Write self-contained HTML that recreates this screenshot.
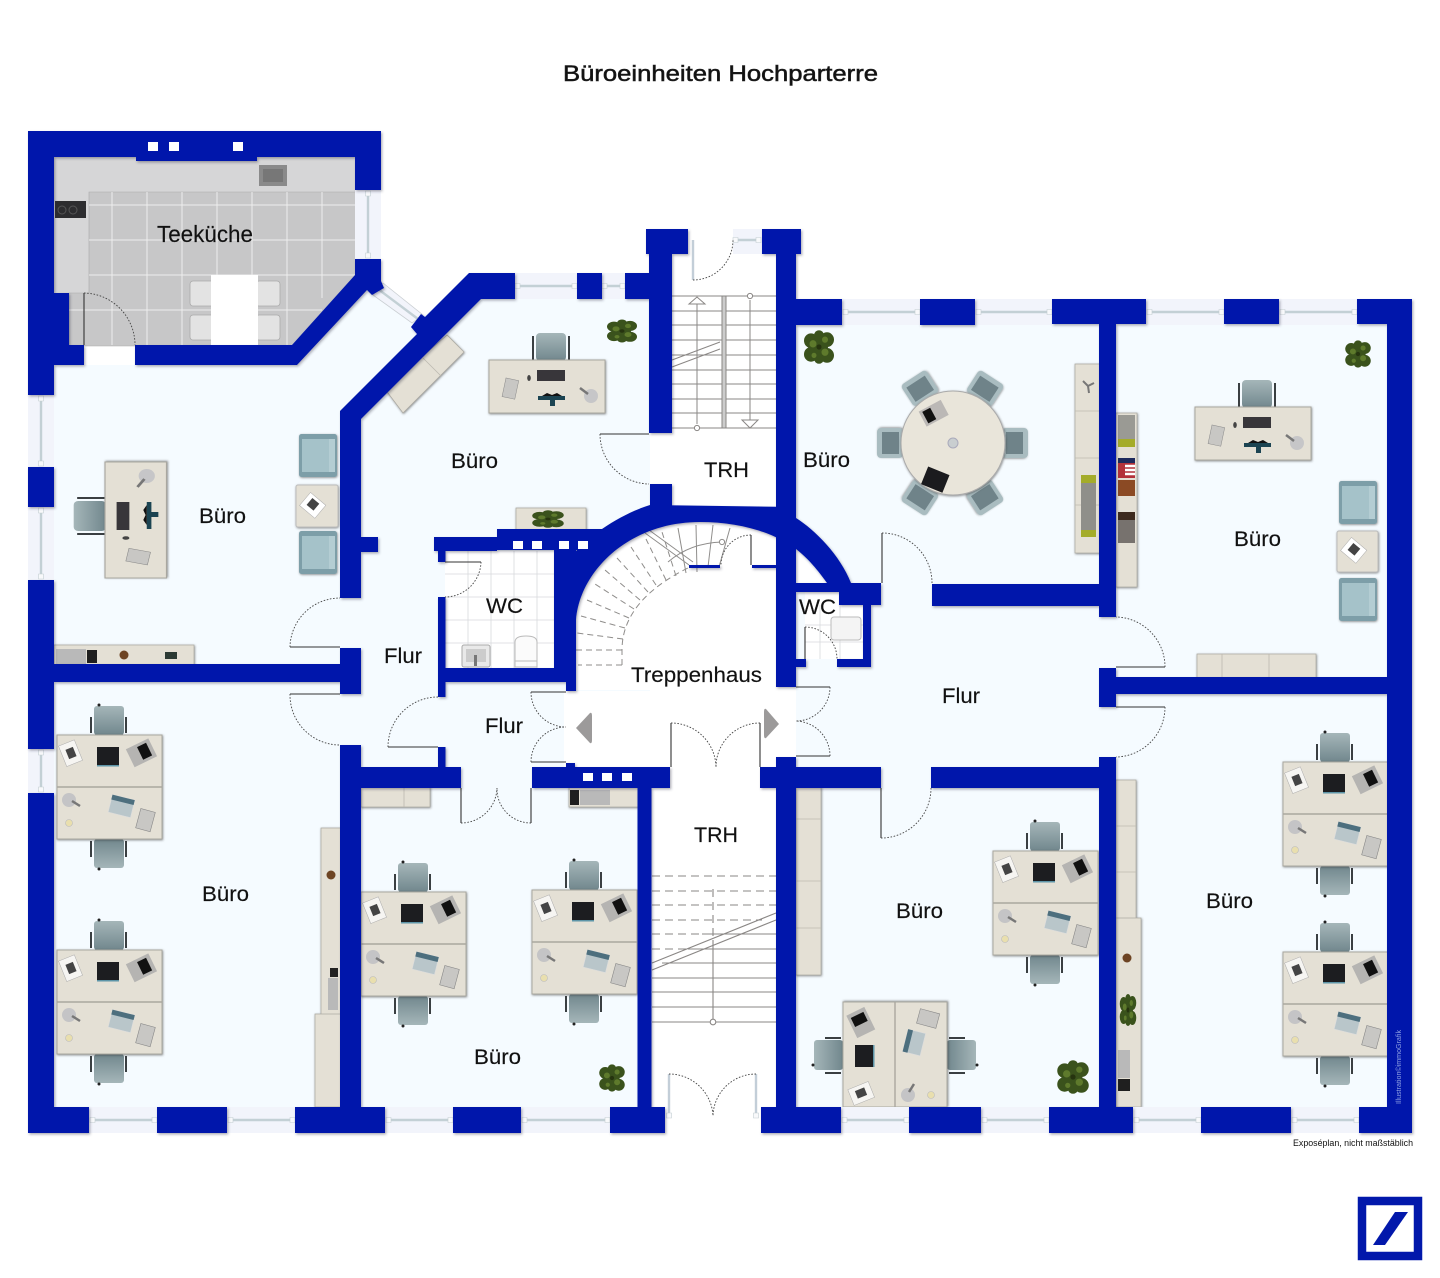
<!DOCTYPE html>
<html lang="de"><head><meta charset="utf-8"><title>Büroeinheiten Hochparterre</title>
<style>html,body{margin:0;padding:0;background:#fff}svg{display:block}
text{font-family:"Liberation Sans",sans-serif;fill:#111}</style></head>
<body>
<svg xmlns="http://www.w3.org/2000/svg" width="1440" height="1278" viewBox="0 0 1440 1278">
<defs>
<filter id="ws" x="-5%" y="-5%" width="110%" height="110%"><feDropShadow dx="1.2" dy="1.5" stdDeviation="1.2" flood-color="#334" flood-opacity=".4"/></filter>
<filter id="fs" x="-10%" y="-10%" width="120%" height="120%"><feDropShadow dx=".6" dy=".8" stdDeviation="1" flood-color="#333" flood-opacity=".55"/></filter>
<linearGradient id="ch" x1="0" y1="0" x2="0" y2="1"><stop offset="0" stop-color="#a5b6b9"/><stop offset="1" stop-color="#71878d"/></linearGradient>
<linearGradient id="chb" x1="0" y1="1" x2="0" y2="0"><stop offset="0" stop-color="#a5b6b9"/><stop offset="1" stop-color="#71878d"/></linearGradient>
<g id="d4">
  <g stroke="#3a3f42" stroke-width="2" fill="none"><path d="M34 -2V-18M69 -2V-18M34 106V122M69 106V122"/></g>
  <rect x="37" y="-29" width="30" height="29" rx="3" fill="url(#ch)"/>
  <rect x="37" y="104" width="30" height="29" rx="3" fill="url(#chb)"/>
  <circle cx="42" cy="-30" r="1.5" fill="#222"/><circle cx="42" cy="134" r="1.5" fill="#222"/>
  <rect width="105" height="104" fill="#e4e0d5" stroke="#a9a79f" filter="url(#fs)"/>
  <path d="M0 52H105" stroke="#aaa89f" stroke-width="1.4"/>
  <rect x="5" y="7" width="17" height="22" fill="#f6f5f2" stroke="#aaa" stroke-width=".5" transform="rotate(-22 14 18)"/>
  <rect x="10" y="13" width="8" height="10" fill="#444" transform="rotate(-22 14 18)"/>
  <rect x="40" y="12" width="22" height="19" fill="#1c1d20"/><rect x="40" y="30" width="22" height="1.5" fill="#5d95a8"/>
  <rect x="72" y="8" width="25" height="20" fill="#b5b4b2" transform="rotate(-26 84 18)"/>
  <rect x="83" y="11" width="10" height="14" fill="#111" transform="rotate(-26 84 18)"/>
  <circle cx="12" cy="65" r="7" fill="#c4c4c6"/><path d="M15 66l8 5" stroke="#777" stroke-width="2.5"/>
  <circle cx="12" cy="88" r="3.5" fill="#e9dfae" stroke="#bbb" stroke-width=".6"/>
  <rect x="53" y="62" width="23" height="18" fill="#b9c6ca" stroke="#ddd" stroke-width=".6" transform="rotate(14 64 71)"/>
  <rect x="53" y="62" width="23" height="5" fill="#4d6f7e" transform="rotate(14 64 71)"/>
  <rect x="81" y="75" width="15" height="20" fill="#c8c7c4" stroke="#888" stroke-width=".6" transform="rotate(15 88 85)"/>
</g>
<g id="d1">
  <path d="M44 0V-24M80 0V-24" stroke="#3a3f42" stroke-width="2"/>
  <rect x="47" y="-27" width="30" height="28" rx="4" fill="url(#ch)"/>
  <rect width="116" height="53" fill="#e4e0d5" stroke="#a9a79f" filter="url(#fs)"/>
  <rect x="15" y="19" width="13" height="19" fill="#c8c7c4" stroke="#888" stroke-width=".5" transform="rotate(12 21 28)"/>
  <ellipse cx="40" cy="18" rx="1.8" ry="3" fill="#444"/>
  <rect x="48" y="10" width="28" height="11" fill="#38363a"/>
  <path d="M49 36h27v4H66v6h-5v-6H49z" fill="#1b4452"/><path d="M53 36l5-3 5 2 5-2 5 3z" fill="#111"/>
  <circle cx="102" cy="36" r="7" fill="#c6c6c8"/><path d="M91 28l8 6" stroke="#777" stroke-width="2.5"/>
</g>
<g id="arm"><rect width="38" height="43" rx="2.5" fill="#7d9ea8" filter="url(#fs)"/><rect x="3" y="5" width="27" height="33" fill="#a5c2c9"/><rect x="30" y="5" width="6" height="33" fill="#b4cdd3"/></g>
<g id="rc"><rect x="-15" y="-15" width="30" height="26" rx="4" fill="#a9bcc0" filter="url(#fs)"/><rect x="-11" y="-10" width="22" height="17" fill="#6f8389"/></g>
<g id="pl"><g fill="#3a521c"><circle cx="-8" cy="-6" r="7"/><circle cx="8" cy="-7" r="7"/><circle cx="-8" cy="7" r="7"/><circle cx="8" cy="8" r="7"/><circle cx="0" cy="-11" r="5"/><circle cx="0" cy="11" r="5"/><circle r="9"/></g><g fill="#5e7a2c"><circle cx="-6" cy="-3" r="3.5"/><circle cx="6" cy="5" r="3.5"/><circle cx="6" cy="-7" r="3"/><circle cx="-5" cy="8" r="2.5"/></g><circle r="2.5" fill="#26340f"/></g>
</defs>
<rect width="1440" height="1278" fill="#fff"/>

<!-- floors -->
<path d="M54 365H300L366 288L384 283L423 316L470 285H650V1120H54Z" fill="#f5fbff"/>
<rect x="796" y="310" width="595" height="805" fill="#f5fbff"/>
<rect x="54" y="395" width="12" height="300" fill="#f5fbff"/>
<path d="M564 691H796V1107H651V788H564ZM576 622C580 570 630 522 700 522C745 522 790 540 828 584H796V690H576Z" fill="#fff"/>
<rect x="672" y="254" width="104" height="253" fill="#fff"/><rect x="650" y="433" width="30" height="51" fill="#fff"/>
<rect x="665" y="1100" width="96" height="33" fill="#fff"/>
<path d="M796 549L828 584H796Z" fill="#fff"/>
<rect x="445" y="551" width="110" height="118" fill="#fff"/>
<path d="M468 551V668M491 551V668M514 551V668M537 551V668M445 574H555M445 597H555M445 620H555M445 643H555" stroke="#d8d9dc" stroke-width=".8"/>
<rect x="805" y="592" width="58" height="67" fill="#fff"/>
<path d="M820 605V659M840 605V659M805 625H863M805 642H863" stroke="#d8d9dc" stroke-width=".8"/>

<!-- Teeküche -->
<rect x="54" y="157" width="302" height="36" fill="#d6d6d7"/>
<rect x="54" y="190" width="36" height="104" fill="#d6d6d7"/>
<path d="M89 192H356V275L292 346H69V293H89Z" fill="#c7c7c8" stroke="#aaa" stroke-width=".6"/>
<path d="M112 192V345M147 192V345M182 192V345M217 192V345M252 192V345M287 192V345M322 192V298M89 205H355M89 240H355M89 275H355M69 310H322" stroke="#eee" stroke-width="1"/>
<rect x="259" y="165" width="28" height="21" fill="#8a8a8a"/><rect x="263" y="169" width="20" height="13" fill="#777"/>
<rect x="55" y="201" width="31" height="17" fill="#2d2d2f"/><circle cx="62" cy="210" r="4" fill="none" stroke="#555"/><circle cx="73" cy="210" r="4" fill="none" stroke="#555"/>
<g fill="#e3e3e3" stroke="#aaa" stroke-width=".8"><rect x="190" y="281" width="24" height="25" rx="3"/><rect x="190" y="315" width="24" height="25" rx="3"/><rect x="256" y="281" width="24" height="25" rx="3"/><rect x="256" y="315" width="24" height="25" rx="3"/></g>
<rect x="211" y="275" width="47" height="70" fill="#fff"/>

<!-- sideboards -->
<g fill="#e4e0d5" stroke="#a9a79f" stroke-width=".7" filter="url(#fs)">
<rect x="54" y="645" width="140" height="20"/>
<path d="M385 389L447 335L464 352L403 413Z"/>
<rect x="516" y="508" width="70" height="22"/>
<rect x="1075" y="364" width="25" height="189"/>
<rect x="1116" y="413" width="21" height="174"/>
<rect x="1197" y="654" width="119" height="24"/>
<rect x="361" y="787" width="69" height="20"/>
<rect x="569" y="787" width="69" height="20"/>
<rect x="321" y="828" width="20" height="187"/>
<rect x="315" y="1014" width="26" height="93"/>
<rect x="796" y="787" width="25" height="188"/>
<rect x="1116" y="780" width="20" height="139"/>
<rect x="1116" y="918" width="25" height="189"/>
</g>
<path d="M423 358L441 376M1075 411H1100M1075 458H1100M1075 505H1100M1197 654M1222 654V678M1269 654V678M404 788V807M796 819M796 819H821M796 881H821M796 928H821M1116 826H1136M1116 872H1136" stroke="#bdbab0" stroke-width=".8"/>
<!-- sideboard items -->
<rect x="56" y="649" width="30" height="15" fill="#b9b9b9"/><rect x="87" y="650" width="10" height="13" fill="#1f1f1f"/><circle cx="124" cy="655" r="4.5" fill="#6d4423"/><rect x="165" y="652" width="12" height="7" fill="#2c3a34"/>
<rect x="570" y="790" width="9" height="15" fill="#1f1f1f"/><rect x="580" y="790" width="30" height="15" fill="#b9b9b9"/>
<circle cx="331" cy="875" r="4.5" fill="#6d4423"/><rect x="330" y="968" width="8" height="9" fill="#222"/><rect x="328" y="978" width="10" height="32" fill="#b9b9b9"/>
<circle cx="1127" cy="958" r="4.5" fill="#6d4423"/><rect x="1118" y="1050" width="12" height="28" fill="#b9b9b9"/><rect x="1118" y="1079" width="12" height="12" fill="#1f1f1f"/>
<rect x="1081" y="475" width="15" height="62" fill="#8f8f8a"/><rect x="1081" y="475" width="15" height="8" fill="#a4ac2a"/><rect x="1081" y="530" width="15" height="7" fill="#a4ac2a"/>
<rect x="1118" y="415" width="17" height="32" fill="#9a9a94"/><rect x="1118" y="439" width="17" height="8" fill="#a4ac2a"/>
<rect x="1118" y="458" width="17" height="20" fill="#b3323a"/><rect x="1118" y="458" width="17" height="5" fill="#1d2a5c"/><path d="M1125 466h10M1125 470h10M1125 474h10" stroke="#fff" stroke-width="2.4"/><rect x="1118" y="480" width="17" height="16" fill="#8b4a24"/>
<rect x="1118" y="512" width="17" height="31" fill="#77726e"/><rect x="1118" y="512" width="17" height="8" fill="#3d2a1e"/>
<path d="M1088 386l-5 -5M1088 386l6 -3M1088 386l1 7" stroke="#777" stroke-width="2"/>

<!-- plants -->
<use href="#pl" transform="translate(622 331) scale(1,.72)"/>
<use href="#pl" transform="translate(819 347) scale(1,1.05)"/>
<use href="#pl" transform="translate(1358 354) scale(.85)"/>
<use href="#pl" transform="translate(612 1078) scale(.85)"/>
<use href="#pl" transform="translate(1073 1077) scale(1.05)"/>
<use href="#pl" transform="translate(548 519) scale(1.05,.55)"/>
<use href="#pl" transform="translate(1128 1010) scale(.55,1)"/>

<!-- desks -->
<use href="#d4" x="57" y="735"/><use href="#d4" x="57" y="950"/>
<use href="#d4" x="361" y="892"/><use href="#d4" x="532" y="890"/>
<use href="#d4" x="1283" y="762"/><use href="#d4" x="1283" y="952"/>
<use href="#d4" x="993" y="851"/>
<use href="#d4" transform="translate(843 1107) rotate(-90)"/>
<use href="#d1" x="489" y="360"/><use href="#d1" x="1195" y="407"/>
<use href="#d1" transform="translate(105 578) rotate(-90) scale(1,1.16)"/>
<!-- round table -->
<use href="#rc" transform="translate(892 443) rotate(-90)"/><use href="#rc" transform="translate(1013 443) rotate(90)"/>
<use href="#rc" transform="translate(921 390) rotate(-33)"/><use href="#rc" transform="translate(984 390) rotate(33)"/>
<use href="#rc" transform="translate(921 496) rotate(213)"/><use href="#rc" transform="translate(984 496) rotate(147)"/>
<circle cx="953" cy="443" r="52" fill="#e9e5da" stroke="#aaa" filter="url(#fs)"/>
<circle cx="953" cy="443" r="5" fill="#c9ced0" stroke="#aab" stroke-width="1"/>
<rect x="921" y="405" width="25" height="17" fill="#bbb8b6" transform="rotate(-28 933 413)"/><rect x="924" y="407" width="9" height="13" fill="#111" transform="rotate(-28 933 413)"/>
<rect x="924" y="470" width="23" height="19" fill="#1b1b1e" transform="rotate(22 935 479)"/>
<!-- armchairs -->
<use href="#arm" x="299" y="434"/><use href="#arm" x="299" y="531"/><use href="#arm" x="1339" y="481"/><use href="#arm" x="1339" y="578"/>
<rect x="296" y="485" width="42" height="42" rx="2" fill="#e4e0d5" stroke="#bbb" filter="url(#fs)"/>
<rect x="1337" y="531" width="41" height="41" rx="2" fill="#e4e0d5" stroke="#bbb" filter="url(#fs)"/>
<rect x="303" y="497" width="20" height="17" fill="#fff" stroke="#aaa" stroke-width=".5" transform="rotate(40 313 505)"/><rect x="308" y="500" width="9" height="9" fill="#444" transform="rotate(40 313 505)"/>
<rect x="1344" y="542" width="20" height="17" fill="#fff" stroke="#aaa" stroke-width=".5" transform="rotate(40 1354 550)"/><rect x="1349" y="545" width="9" height="9" fill="#444" transform="rotate(40 1354 550)"/>

<!-- sanitary -->
<rect x="462" y="645" width="28" height="22" rx="2" fill="#e9e9e9" stroke="#aaa"/><rect x="466" y="649" width="20" height="13" fill="#ccc"/><rect x="474" y="655" width="3" height="11" fill="#777"/>
<path d="M515 667V642Q515 636 526 636Q537 636 537 642V667Z" fill="#fbfbfb" stroke="#bbb"/><path d="M515 661H537" stroke="#bbb"/>
<rect x="831" y="617" width="30" height="23" rx="3" fill="#f4f4f4" stroke="#bbb"/>

<!-- stairs top -->
<g stroke="#8a8785" stroke-width="1" fill="none">
<path d="M672 296H776M672 311H776M672 325H776M672 340H776M672 355H776M672 370H776M672 384H776M672 399H776M672 413H776M672 428H776"/>
<path d="M697 300V424M750 300V420"/>
<rect x="722" y="296" width="4" height="132" fill="#ccc"/>
<path d="M672 360L720 342M672 367L720 349"/>
<path d="M689 304L697 297L705 304Z" fill="#fff"/><path d="M742 420L758 420L750 428Z" fill="#fff"/>
<circle cx="750" cy="296" r="2.6" fill="#fff"/><circle cx="697" cy="428" r="2.6" fill="#fff"/>
</g>
<!-- stairs bottom -->
<g stroke="#8a8785" stroke-width="1.1" fill="none">
<path d="M652 876H776M652 891H776M652 905H776M652 920H762M652 934H702M652 949H688" stroke-dasharray="8 5"/>
<path d="M713 889V940" stroke-dasharray="8 5"/><path d="M713 940V1019"/>
<path d="M702 934H776M688 949H776M662 963H776M652 978H776M652 992H776M652 1007H776M652 1022H776"/>
<path d="M652 963L776 913M652 970L776 920"/><circle cx="713" cy="1022" r="2.8" fill="#fff"/>
</g>
<!-- spiral stairs -->
<g stroke="#8f8d8b" stroke-width="1" fill="none">
<g stroke-dasharray="6 4"><path d="M622 665H578M622 650H576M623 639L577 633M625 628L581 616M629 618L587 600M634 609L595 584M640 600L605 570M648 592L617 558M656 585L631 547M666 580L646 539M676 576L662 532"/>
<path d="M622 665V650Q622 600 690 567"/></g>
<path d="M686 573L678 528M697 572L696 525M708 567L713 525M719 567L730 528"/>
<path d="M645 533L689 565M649 530L693 562"/><path d="M668 562Q690 543 722 542"/>
<circle cx="722" cy="542" r="2.6" fill="#fff"/>
</g>
<!-- arrows -->
<path d="M576 728L590 713Q592 712 592 716V740Q592 744 590 743Z" fill="#9c9a9a"/>
<path d="M779 724L766 709Q764 708 764 712V735Q764 739 766 738Z" fill="#9c9a9a"/>

<!-- windows -->
<g fill="#f2f4fb">
<rect x="515" y="273" width="62" height="26"/><rect x="602" y="273" width="23" height="26"/>
<rect x="842" y="299" width="78" height="26"/><rect x="975" y="299" width="77" height="26"/><rect x="1146" y="299" width="78" height="26"/><rect x="1279" y="299" width="78" height="26"/>
<rect x="89" y="1107" width="68" height="26"/><rect x="227" y="1107" width="68" height="26"/><rect x="385" y="1107" width="68" height="26"/><rect x="521" y="1107" width="89" height="26"/>
<rect x="841" y="1107" width="68" height="26"/><rect x="981" y="1107" width="68" height="26"/><rect x="1133" y="1107" width="68" height="26"/><rect x="1291" y="1107" width="68" height="26"/>
<rect x="28" y="395" width="26" height="72"/><rect x="28" y="507" width="26" height="73"/><rect x="28" y="749" width="26" height="44"/><rect x="355" y="190" width="26" height="69"/>
<path d="M383 283L423 315L412 323L373 295Z" stroke="#c9ced2" stroke-width=".8"/><rect x="733" y="229" width="29" height="25"/>
</g>
<g stroke="#c3d0d5" stroke-width="2.4" fill="none">
<path d="M517 286H575M604 286H623M844 312H918M977 312H1050M1148 312H1222M1281 312H1355M91 1120H155M229 1120H293M387 1120H451M523 1120H608M843 1120H907M983 1120H1047M1135 1120H1199M1293 1120H1357M41 397V465M41 509V578M41 751V791M368 192V257M378 289L418 319M735 240H760"/>
<path d="M693 240V280M669 1074V1116M756 1074V1116" stroke="#c3ced8"/>
</g>
<path d="M515 283.5h5v5h-5zM572 283.5h5v5h-5zM602 283.5h5v5h-5zM620 283.5h5v5h-5zM843 309.5h5v5h-5zM915 309.5h5v5h-5zM976 309.5h5v5h-5zM1047 309.5h5v5h-5zM1147 309.5h5v5h-5zM1219 309.5h5v5h-5zM1280 309.5h5v5h-5zM1352 309.5h5v5h-5zM90 1117.5h5v5h-5zM152 1117.5h5v5h-5zM228 1117.5h5v5h-5zM290 1117.5h5v5h-5zM386 1117.5h5v5h-5zM448 1117.5h5v5h-5zM522 1117.5h5v5h-5zM605 1117.5h5v5h-5zM842 1117.5h5v5h-5zM904 1117.5h5v5h-5zM982 1117.5h5v5h-5zM1044 1117.5h5v5h-5zM1134 1117.5h5v5h-5zM1196 1117.5h5v5h-5zM1292 1117.5h5v5h-5zM1354 1117.5h5v5h-5zM38.5 396h5v5h-5zM38.5 461h5v5h-5zM38.5 508h5v5h-5zM38.5 574h5v5h-5zM38.5 750h5v5h-5zM38.5 787h5v5h-5zM365.5 191h5v5h-5zM365.5 253h5v5h-5zM733 237.500h5v5h-5zM756 237.500h5v5h-5zM666.500 1113h5v5h-5zM753.500 1113h5v5h-5z" fill="#f8f9fb" stroke="#c3ced2" stroke-width=".6"/>

<!-- walls -->
<g fill="#0218ab" filter="url(#ws)">
<rect x="28" y="131" width="353" height="26"/><rect x="136" y="157" width="121" height="4"/><rect x="28" y="157" width="26" height="238"/><rect x="54" y="293" width="15" height="52"/><rect x="54" y="345" width="30" height="20"/><rect x="355" y="157" width="26" height="33"/>
<path d="M135 345H292L355 275V259H381V281L384 288L372 295L367 290L297 365H135Z"/>
<rect x="28" y="467" width="26" height="40"/><rect x="28" y="580" width="26" height="169"/><rect x="28" y="793" width="26" height="340"/>
<rect x="28" y="1107" width="61" height="26"/><rect x="157" y="1107" width="70" height="26"/><rect x="295" y="1107" width="90" height="26"/><rect x="453" y="1107" width="68" height="26"/><rect x="610" y="1107" width="55" height="26"/>
<rect x="54" y="664" width="286" height="18"/><rect x="340" y="648" width="21" height="46"/><rect x="340" y="745" width="21" height="362"/><rect x="361" y="767" width="100" height="21"/><rect x="438" y="747" width="7.5" height="20"/>
<path d="M469 273H515V299H481L361 419V598H340V411L417 334L411 327L421 314L425 317Z"/>
<rect x="361" y="537" width="17" height="15"/><rect x="577" y="273" width="25" height="26"/><rect x="625" y="273" width="24" height="26"/>
<rect x="646" y="229" width="42" height="25"/><rect x="649" y="254" width="23" height="179"/><rect x="650" y="484" width="22" height="23"/>
<rect x="762" y="229" width="39" height="25"/><rect x="776" y="254" width="20" height="433"/><rect x="796" y="299" width="46" height="26"/><rect x="920" y="299" width="55" height="26"/><rect x="1052" y="299" width="94" height="25"/><rect x="1099" y="324" width="17" height="293"/><rect x="1224" y="299" width="55" height="25"/><rect x="1357" y="299" width="55" height="25"/><rect x="1387" y="324" width="25" height="809"/>
<rect x="932" y="584" width="167" height="22"/><rect x="796" y="583" width="85" height="9"/><rect x="839" y="592" width="42" height="13"/><rect x="863" y="605" width="8" height="62"/><rect x="837" y="659" width="34" height="8"/><rect x="796" y="659" width="10" height="8"/>
<rect x="1116" y="677" width="271" height="17"/><rect x="1099" y="668" width="17" height="39"/>
<rect x="760" y="767" width="121" height="21"/><rect x="931" y="767" width="168" height="21"/><rect x="776" y="757" width="20" height="350"/><rect x="1099" y="757" width="17" height="350"/>
<rect x="761" y="1107" width="80" height="26"/><rect x="909" y="1107" width="72" height="26"/><rect x="1049" y="1107" width="84" height="26"/><rect x="1201" y="1107" width="90" height="26"/><rect x="1359" y="1107" width="53" height="26"/>
<rect x="532" y="767" width="138" height="21"/><rect x="566" y="763" width="9" height="4"/><rect x="637.5" y="788" width="14" height="319"/>
<rect x="434" y="537" width="63" height="14"/><rect x="497" y="529" width="105" height="21"/><rect x="554" y="550" width="22" height="132"/><rect x="445" y="668" width="131" height="14"/><rect x="438" y="551" width="7.5" height="11"/><rect x="438" y="597" width="7.5" height="100"/><rect x="566" y="682" width="10" height="9"/>
<path d="M576 551L602 529C618 518 634 510 650 505L796 507V518C815 530 840 555 851 583H827C815 566 806 557 796 549C770 530 735 522 700 522C630 522 580 570 576 620Z"/>
<rect x="689" y="565" width="31" height="3"/><rect x="752" y="565" width="24" height="3"/>
</g>
<!-- shafts -->
<g fill="#fff">
<rect x="148" y="142" width="10" height="9"/><rect x="169" y="142" width="10" height="9"/><rect x="233" y="142" width="10" height="9"/>
<rect x="513" y="541" width="10" height="8"/><rect x="532" y="541" width="10" height="8"/><rect x="559" y="541" width="10" height="8"/><rect x="578" y="541" width="10" height="8"/>
<rect x="583" y="773" width="10" height="8"/><rect x="602" y="773" width="10" height="8"/><rect x="622" y="773" width="10" height="8"/>
</g>

<!-- doors -->
<g stroke="#333" stroke-width="1.1" fill="none">
<path d="M290 647H340M290 694H340M388 747H438M461 788V823M531 788V823M531 692H566M531 762H566M796 687H830M796 756H830M671 723V767M760 723V767M445 562H481M600 434H649M882 533V583M881 788V838M1116 667H1165M1116 707H1165M84 293V345M805 627V659M751 535V565"/>
</g>
<g stroke="#444" stroke-width=".9" stroke-dasharray="1.6 1.6" fill="none">
<path d="M290 647A50 50 0 0 1 340 598"/><path d="M290 694A50 50 0 0 0 340 745"/><path d="M388 747A50 50 0 0 1 438 697"/>
<path d="M461 823A36 36 0 0 0 497 788"/><path d="M531 823A34 34 0 0 1 497 788"/>
<path d="M531 692A35 35 0 0 0 566 727"/><path d="M531 762A35 35 0 0 1 566 727"/>
<path d="M830 687A34 34 0 0 1 796 721"/><path d="M830 756A35 35 0 0 0 796 721"/>
<path d="M671 723A45 45 0 0 1 716 767"/><path d="M760 723A44 44 0 0 0 716 767"/>
<path d="M481 562A36 36 0 0 1 445 597"/><path d="M600 434A50 50 0 0 0 649 484"/>
<path d="M882 533A50 50 0 0 1 932 583"/><path d="M881 838A50 50 0 0 0 931 788"/>
<path d="M1165 667A50 50 0 0 0 1116 617"/><path d="M1165 707A50 50 0 0 1 1116 757"/>
<path d="M84 293A52 52 0 0 1 135 345"/><path d="M805 627A32 32 0 0 1 837 659"/>
<path d="M669 1074A44 44 0 0 1 713 1116"/><path d="M756 1074A43 43 0 0 0 713 1116"/>
<path d="M693 280A40 40 0 0 0 733 240"/><path d="M751 535A30 30 0 0 0 721 565"/>
</g>

<!-- labels -->
<text x="563" y="81" font-size="22" fill="#222" stroke="#222" stroke-width=".55" textLength="315" lengthAdjust="spacingAndGlyphs">Büroeinheiten Hochparterre</text>
<g font-size="21" stroke="#111" stroke-width=".15">
<text x="157" y="242" font-size="23" textLength="96" lengthAdjust="spacingAndGlyphs">Teeküche</text>
<text x="199" y="523" textLength="47" lengthAdjust="spacingAndGlyphs">Büro</text>
<text x="451" y="468" textLength="47" lengthAdjust="spacingAndGlyphs">Büro</text>
<text x="803" y="467" textLength="47" lengthAdjust="spacingAndGlyphs">Büro</text>
<text x="1234" y="546" textLength="47" lengthAdjust="spacingAndGlyphs">Büro</text>
<text x="202" y="901" textLength="47" lengthAdjust="spacingAndGlyphs">Büro</text>
<text x="896" y="918" textLength="47" lengthAdjust="spacingAndGlyphs">Büro</text>
<text x="1206" y="908" textLength="47" lengthAdjust="spacingAndGlyphs">Büro</text>
<text x="474" y="1064" textLength="47" lengthAdjust="spacingAndGlyphs">Büro</text>
<text x="704" y="477" textLength="45" lengthAdjust="spacingAndGlyphs">TRH</text>
<text x="694" y="842" textLength="44" lengthAdjust="spacingAndGlyphs">TRH</text>
<text x="384" y="663" textLength="38" lengthAdjust="spacingAndGlyphs">Flur</text>
<text x="485" y="733" textLength="38" lengthAdjust="spacingAndGlyphs">Flur</text>
<text x="942" y="703" textLength="38" lengthAdjust="spacingAndGlyphs">Flur</text>
<text x="486" y="613" textLength="37" lengthAdjust="spacingAndGlyphs">WC</text>
<text x="799" y="614" textLength="37" lengthAdjust="spacingAndGlyphs">WC</text>
<text x="631" y="682" textLength="131" lengthAdjust="spacingAndGlyphs">Treppenhaus</text>
</g>
<text x="1293" y="1146" font-size="9" fill="#222" textLength="120" lengthAdjust="spacingAndGlyphs">Exposéplan, nicht maßstäblich</text>
<text transform="translate(1401 1104) rotate(-90)" font-size="7" style="fill:#8ea0e2" textLength="74" lengthAdjust="spacingAndGlyphs">Illustration©immoGrafik</text>

<!-- logo -->
<rect x="1362" y="1201" width="56" height="55" fill="#fff" stroke="#0218ab" stroke-width="8.5"/>
<path d="M1395 1212H1408L1385 1245H1373Z" fill="#0218ab"/>
</svg>
</body></html>
